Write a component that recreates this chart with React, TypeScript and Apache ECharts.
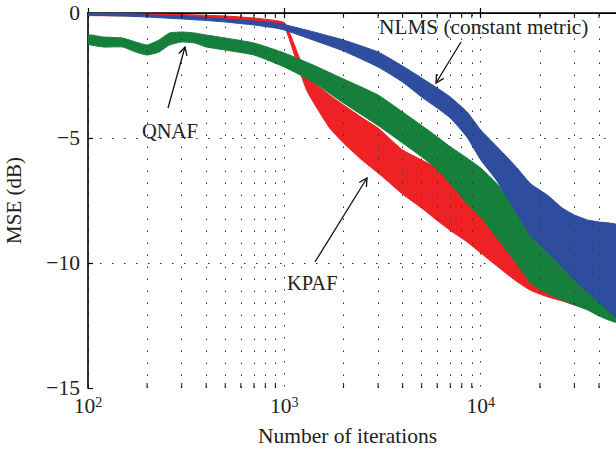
import React, { useEffect, useRef } from "react";
import * as echarts from "echarts";

// ---- data ----
// NLMS (constant metric) – blue band: upper / lower edge of the noisy curve (dB)
const nlmsIter = [100, 150, 200, 300, 400, 500, 700, 900, 1000, 1400, 2000, 3000, 4000, 5000, 6000, 7000, 8500, 10000, 12000, 15000, 18000, 22000, 26000, 30000, 35000, 40000, 50000];
const nlmsUpper = [0, -0.04, -0.08, -0.12, -0.18, -0.24, -0.32, -0.4, -0.46, -0.75, -1.08, -1.56, -2.12, -2.6, -3.0, -3.36, -3.95, -4.68, -5.32, -6.12, -6.84, -7.3, -7.8, -8.08, -8.28, -8.36, -8.5];
const nlmsLower = [-0.08, -0.12, -0.16, -0.24, -0.3, -0.36, -0.48, -0.6, -0.68, -1.08, -1.52, -2.16, -2.76, -3.36, -3.8, -4.2, -4.96, -5.88, -6.68, -7.92, -8.92, -9.56, -10.16, -10.68, -11.16, -11.56, -12.2];

// QNAF – green band
const qnafIter = [100, 120, 150, 175, 200, 230, 260, 300, 350, 400, 500, 700, 1000, 1400, 2000, 3000, 4000, 5000, 6000, 7000, 8500, 10000, 12000, 15000, 18000, 22000, 26000, 30000, 35000, 40000, 50000];
const qnafUpper = [-0.88, -0.96, -1.0, -1.16, -1.28, -1.08, -0.8, -0.76, -0.8, -0.88, -1.0, -1.2, -1.6, -2.08, -2.64, -3.28, -3.96, -4.5, -4.95, -5.35, -5.8, -6.2, -6.8, -7.68, -8.3, -8.5, -8.5, -8.5, -8.5, -8.5, -8.6];
const qnafLower = [-1.24, -1.36, -1.36, -1.56, -1.68, -1.56, -1.28, -1.16, -1.2, -1.36, -1.48, -1.68, -2.16, -2.76, -3.6, -4.5, -5.2, -5.75, -6.25, -6.85, -7.6, -8.16, -8.96, -9.96, -10.8, -11.24, -11.48, -11.68, -11.88, -12.12, -12.36];

// KPAF – red band
const kpafIter = [100, 200, 300, 500, 700, 900, 1000, 1050, 1100, 1200, 1300, 1400, 1700, 2000, 2500, 3000, 3500, 4000, 5000, 6000, 7000, 8500, 10000, 12000, 15000, 18000, 22000, 26000, 30000, 35000, 40000, 50000];
const kpafUpper = [-0.02, -0.04, -0.06, -0.12, -0.2, -0.3, -0.38, -0.68, -1.08, -1.84, -2.48, -2.76, -3.28, -3.68, -4.2, -4.6, -5.08, -5.48, -5.88, -6.2, -6.48, -6.76, -7.4, -8.0, -8.6, -9.0, -9.3, -9.0, -8.8, -8.7, -8.6, -8.6];
const kpafLower = [-0.1, -0.12, -0.16, -0.24, -0.34, -0.46, -0.56, -0.96, -1.44, -2.36, -3.1, -3.55, -4.6, -5.2, -5.9, -6.4, -6.85, -7.25, -7.8, -8.3, -8.7, -9.15, -9.6, -10.1, -10.7, -11.1, -11.36, -11.52, -11.68, -11.84, -12.0, -12.28];

const minorTicks = [200, 300, 400, 500, 600, 700, 800, 900, 2000, 3000, 4000, 5000, 6000, 7000, 8000, 9000, 20000, 30000, 40000];
const yTicks = [0, -5, -10, -15];

const FONT = '"Liberation Serif", "DejaVu Serif", serif';
const BLUE = "#2F4D9E";
const GREEN = "#167F3C";
const RED = "#EE2125";

function band(name: string, xs: number[], upper: number[], lower: number[], color: string) {
  return {
    type: "custom",
    name,
    silent: true,
    clip: true,
    encode: { x: 0, y: [1, 2] },
    data: xs.map((x, i) => [x, upper[i], lower[i]]),
    renderItem: (params: any, api: any) => {
      if (params.dataIndex !== 0) return null;
      const pts: number[][] = [];
      for (let i = 0; i < xs.length; i++) pts.push(api.coord([xs[i], upper[i]]));
      for (let i = xs.length - 1; i >= 0; i--) pts.push(api.coord([xs[i], lower[i]]));
      return {
        type: "polygon",
        shape: { points: pts, smooth: 0.15 },
        style: { fill: color, stroke: color, lineWidth: 1 },
      };
    },
  };
}

function arrow(tail: [number, number], tip: [number, number]) {
  const dx = tail[0] - tip[0];
  const dy = tail[1] - tip[1];
  const len = Math.hypot(dx, dy);
  const ux = dx / len, uy = dy / len;
  const a = (28 * Math.PI) / 180;
  const L = 9;
  const rot = (ang: number): [number, number] => [
    tip[0] + L * (ux * Math.cos(ang) - uy * Math.sin(ang)),
    tip[1] + L * (ux * Math.sin(ang) + uy * Math.cos(ang)),
  ];
  const style = { stroke: "#111", lineWidth: 1.3, fill: "none" };
  return [
    { type: "line", shape: { x1: tail[0], y1: tail[1], x2: tip[0], y2: tip[1] }, style, z: 100 },
    { type: "polyline", shape: { points: [rot(a), tip, rot(-a)] }, style, z: 100 },
  ];
}

function label(text: string, x: number, y: number, size: number) {
  return {
    type: "text",
    x,
    y,
    z: 100,
    style: { text, font: `${size}px ${FONT}`, fill: "#222", textVerticalAlign: "middle" },
  };
}

export default function App() {
  const ref = useRef<HTMLDivElement>(null);
  useEffect(() => {
    if (!ref.current) return;
    const chart = echarts.init(ref.current, null, { renderer: "svg" });
    const dotted = { color: "#333", width: 1, type: [1.5, 10.5] as any };
    const option: any = {
      animation: false,
      backgroundColor: "#fff",
      grid: { left: 88, top: 13, right: 2, bottom: 65, containLabel: false, outerBoundsMode: "none" },
      xAxis: [
        {
          type: "log",
          logBase: 10,
          min: 100,
          max: 50000,
          position: "bottom",
          name: "Number of iterations",
          nameLocation: "middle",
          nameGap: 37,
          nameTextStyle: { fontFamily: FONT, fontSize: 21.5, color: "#222", padding: [0, 11, 0, 0] },
          axisLine: { show: true, lineStyle: { color: "#000", width: 1.6 } },
          axisTick: { show: true, inside: true, length: 5, lineStyle: { color: "#000", width: 1.2 } },
          splitLine: { show: true, lineStyle: dotted },
          axisLabel: {
            margin: 7,
            formatter: (v: number) => {
              const e = Math.log10(v);
              if (Math.abs(e - Math.round(e)) > 1e-6) return "";
              return `{a|10}{b|${Math.round(e)}}`;
            },
            rich: {
              a: { fontFamily: FONT, fontSize: 21.5, color: "#222", lineHeight: 22 },
              b: { fontFamily: FONT, fontSize: 14, color: "#222", verticalAlign: "top", lineHeight: 13 },
            },
          },
        },
        {
          type: "log",
          logBase: 10,
          min: 100,
          max: 50000,
          position: "top",
          axisLine: { show: true, lineStyle: { color: "#000", width: 1.2 } },
          axisTick: { show: true, inside: true, length: 5, lineStyle: { color: "#000", width: 1.2 } },
          axisLabel: { show: false },
          splitLine: { show: false },
        },
      ],
      yAxis: {
        type: "value",
        min: yTicks[yTicks.length - 1],
        max: yTicks[0],
        interval: 5,
        name: "MSE (dB)",
        nameLocation: "middle",
        nameGap: 64,
        nameRotate: 90,
        nameTextStyle: { fontFamily: FONT, fontSize: 21, color: "#222" },
        axisLine: { show: true, lineStyle: { color: "#000", width: 1.6 } },
        axisTick: { show: true, inside: true, length: 5, lineStyle: { color: "#000", width: 1.2 } },
        splitLine: { show: true, showMinLine: false, showMaxLine: false, lineStyle: dotted },
        axisLabel: {
          margin: 8,
          fontFamily: FONT,
          fontSize: 21.5,
          color: "#222",
          formatter: (v: number) => String(v).replace("-", "\u2212"),
        },
      },
      series: [
        {
          type: "line",
          name: "minorGrid",
          data: [],
          silent: true,
          markLine: {
            silent: true,
            symbol: "none",
            label: { show: false },
            lineStyle: dotted,
            data: minorTicks.map((x) => ({ xAxis: x })),
          },
        },
        band("KPAF", kpafIter, kpafUpper, kpafLower, RED),
        band("QNAF", qnafIter, qnafUpper, qnafLower, GREEN),
        band("NLMS", nlmsIter, nlmsUpper, nlmsLower, BLUE),
        {
          type: "scatter",
          name: "ticksBottom",
          silent: true,
          symbol: "rect",
          symbolSize: [1.2, 5],
          symbolOffset: [0, -2.5],
          itemStyle: { color: "#000" },
          data: minorTicks.map((x) => [x, yTicks[yTicks.length - 1]]),
          z: 20,
        },
        {
          type: "scatter",
          name: "ticksTop",
          silent: true,
          symbol: "rect",
          symbolSize: [1.2, 5],
          symbolOffset: [0, 2.5],
          itemStyle: { color: "#000" },
          data: minorTicks.map((x) => [x, yTicks[0]]),
          z: 20,
        },
      ],
      graphic: [
        label("NLMS (constant metric)", 379, 27, 21.3),
        ...arrow([461, 42], [436, 83]),
        label("QNAF", 142, 131, 20.5),
        ...arrow([168, 108], [185, 47]),
        label("KPAF", 287, 283, 20.5),
        ...arrow([315, 262], [367, 178]),
      ],
    };
    chart.setOption(option);
    return () => chart.dispose();
  }, []);
  return (
    <div style={{ position: "fixed", left: 0, top: 0, width: 616, height: 453, overflow: "hidden", background: "#fff" }}>
      <div ref={ref} style={{ width: 620, height: 453 }} />
    </div>
  );
}
